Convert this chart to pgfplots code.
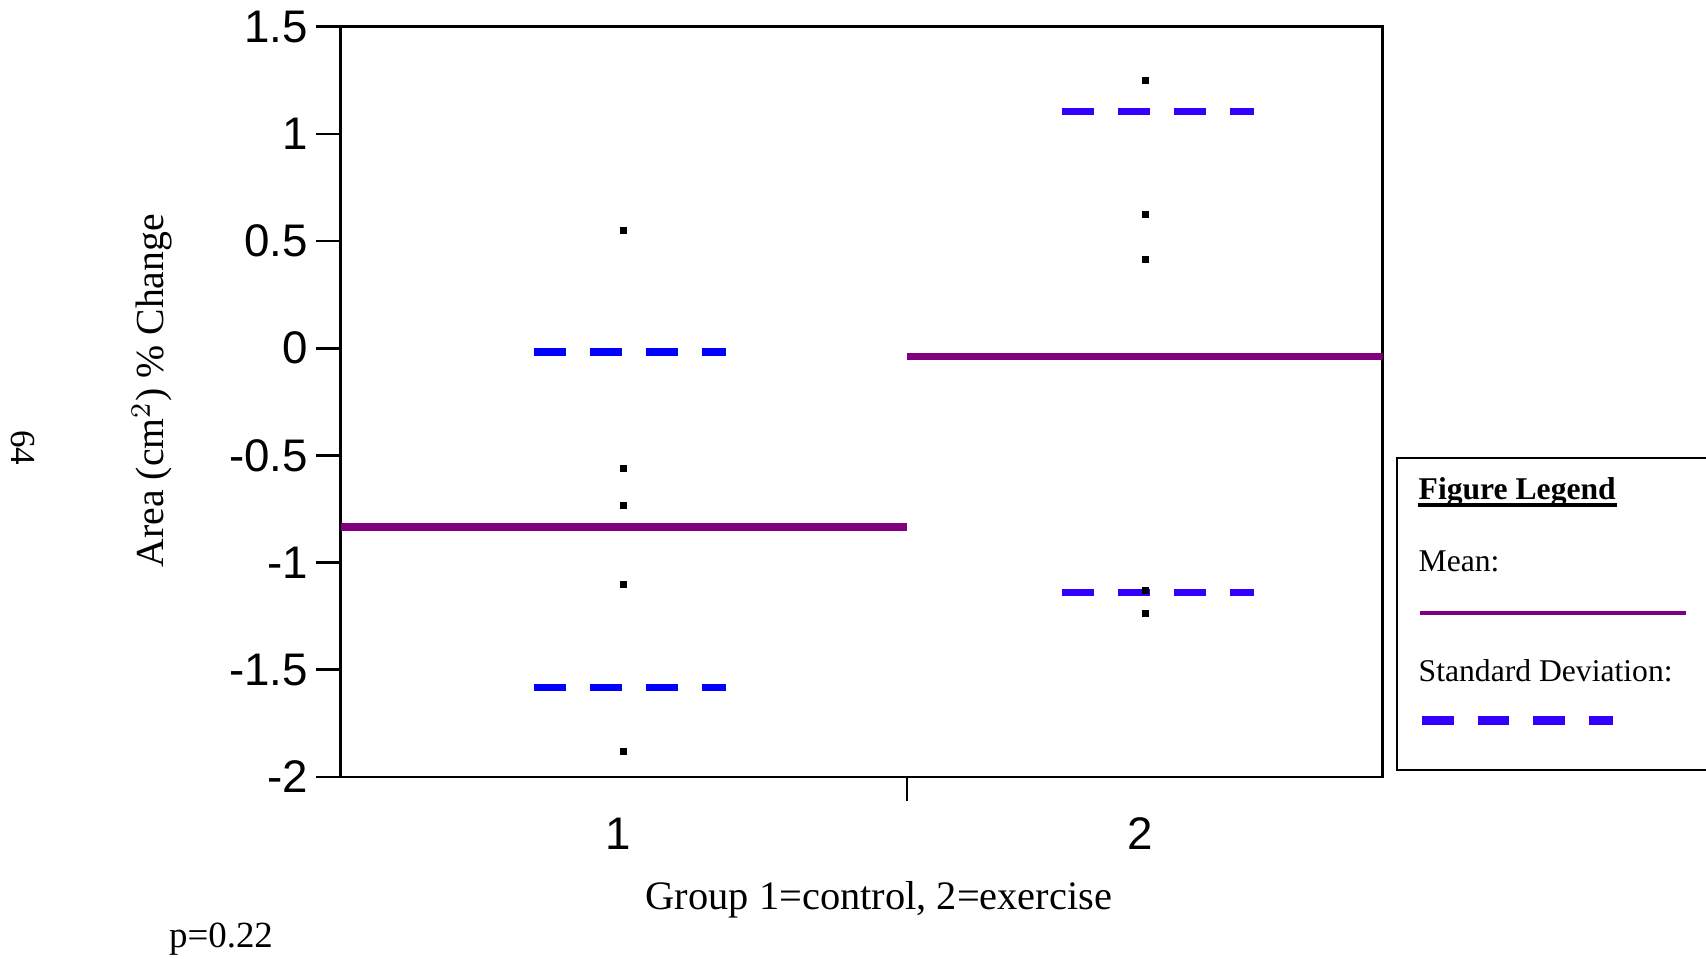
\documentclass[border=0pt]{standalone}
\usepackage{fontspec}
\setmainfont{Liberation Serif}
\setsansfont{Liberation Sans}
\usepackage{pgfplots}
\pgfplotsset{compat=1.18}

\definecolor{meanpurple}{RGB}{128,0,128}
\definecolor{sdblueA}{RGB}{0,0,255}
\definecolor{sdblueB}{RGB}{51,0,255}

\begin{document}
\begin{tikzpicture}
\useasboundingbox (0,0) rectangle (170.6mm,-95.9mm);

\begin{axis}[
    at={(34.05mm,-2.67mm)}, anchor=north west,
    scale only axis,
    width=104.22mm, height=75.03mm,
    xmin=0.4588, xmax=2.4554,
    ymin=-2, ymax=1.5,
    axis line style={line width=0.27mm},
    tick style={line width=0.27mm, black},
    tick align=outside,
    major tick length=2.4mm,
    ytick={-2,-1.5,-1,-0.5,0,0.5,1,1.5},
    yticklabels={-2,-1.5,-1,-0.5,0,0.5,1,1.5},
    ytick pos=left,
    y tick label style={font=\sffamily\fontsize{13}{15}\selectfont, inner sep=0pt, xshift=-0.8mm},
    xtick={1.544}, xticklabels={},
    xtick pos=bottom,
    extra x ticks={1,2},
    extra x tick labels={1,2},
    extra x tick style={major tick length=0pt},
    x tick label style={font=\sffamily\fontsize{13}{15}\selectfont, inner sep=0pt, yshift=-4.0mm, xshift=-0.45mm},
    xlabel={Group 1=control, 2=exercise},
    xlabel style={at={(axis description cs:0.5167,-0.1386)}, anchor=north, inner sep=0pt, font=\fontsize{11.5}{13}\selectfont},
    ylabel={Area (cm$^{2}$) \% Change},
    ylabel style={at={(axis description cs:-0.1809,0.515)}, anchor=center, inner sep=0pt, font=\fontsize{11.3}{13}\selectfont},
]
% means
\addplot[meanpurple, line width=0.75mm] coordinates {(0.4588,-0.834) (1.544,-0.834)};
\addplot[meanpurple, line width=0.75mm] coordinates {(1.544,-0.039) (2.4554,-0.039)};
% standard deviation
\addplot[sdblueA, line width=0.73mm, dash pattern=on 3.2mm off 2.4mm] coordinates {(0.8295,-0.017) (1.1973,-0.017)};
\addplot[sdblueA, line width=0.73mm, dash pattern=on 3.2mm off 2.4mm] coordinates {(0.8295,-1.584) (1.1973,-1.584)};
\addplot[sdblueB, line width=0.73mm, dash pattern=on 3.2mm off 2.4mm] coordinates {(1.841,1.103) (2.2088,1.103)};
\addplot[sdblueB, line width=0.73mm, dash pattern=on 3.2mm off 2.4mm] coordinates {(1.841,-1.138) (2.2088,-1.138)};
% individual values
\addplot[only marks, mark=square*, mark size=0.28mm, black] coordinates {
    (1,0.547) (1,-0.56) (1,-0.734) (1,-1.104) (1,-1.881)
    (2,1.248) (2,0.626) (2,0.412) (2,-1.131) (2,-1.239)
};
\end{axis}

% page number and p value
\node[rotate=-90, font=\fontsize{10}{12}\selectfont] at (2.3mm,-44.8mm) {64};
\node[font=\fontsize{10.5}{12}\selectfont] at (22.1mm,-93.9mm) {p=0.22};

% figure legend box
\draw[line width=0.25mm] (139.7mm,-45.8mm) rectangle (178mm,-77.0mm);
\node[anchor=base west, inner sep=0pt, font=\fontsize{9}{11}\selectfont\bfseries] (fl) at (141.8mm,-50.0mm) {Figure Legend};
\draw[line width=0.4mm] ([yshift=-0.55mm]fl.base west) -- ([yshift=-0.55mm]fl.base east);
\node[anchor=base west, inner sep=0pt, font=\fontsize{9}{11}\selectfont] at (141.8mm,-57.17mm) {Mean:};
\draw[meanpurple, line width=0.43mm] (142.0mm,-61.3mm) -- (168.6mm,-61.3mm);
\node[anchor=base west, inner sep=0pt, font=\fontsize{9}{11}\selectfont] at (141.8mm,-68.17mm) {Standard Deviation:};
\draw[sdblueB, line width=0.9mm, dash pattern=on 3.15mm off 2.4mm] (142.2mm,-72.1mm) -- (161.3mm,-72.1mm);
\end{tikzpicture}
\end{document}
